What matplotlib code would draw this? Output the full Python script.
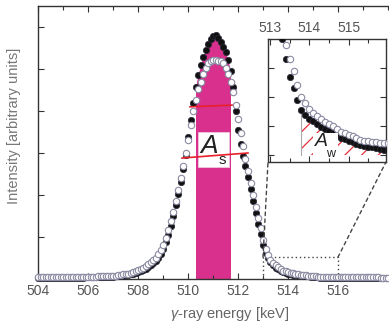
import numpy as np
from matplotlib import pyplot as plt
from matplotlib.patches import ConnectionPatch, Rectangle

plt.rcParams['font.family'] = ['Liberation Sans', 'DejaVu Sans']
plt.rcParams['mathtext.fontset'] = 'custom'
plt.rcParams['mathtext.it'] = 'Liberation Sans:italic'
plt.rcParams['mathtext.rm'] = 'Liberation Sans'
plt.rcParams['hatch.linewidth'] = 0.9

# energy channels, keV
energy = np.round(np.arange(504.0, 518.01, 0.1), 1)

# filled (black) spectrum
black = [
    0.03, 0.03, 0.03, 0.03, 0.03, 0.03, 0.03, 0.03, 0.03, 0.03,
    0.03, 0.03, 0.03, 0.03, 0.03, 0.035, 0.035, 0.035, 0.035, 0.04,
    0.04, 0.04, 0.04, 0.04, 0.045, 0.045, 0.045, 0.05, 0.05, 0.05,
    0.05, 0.06, 0.06, 0.07, 0.08, 0.09, 0.10, 0.11, 0.12, 0.14,
    0.16, 0.18, 0.21, 0.25, 0.29, 0.33, 0.38, 0.43, 0.50, 0.59,
    0.72, 0.88, 1.05, 1.27, 1.50, 1.76, 2.03, 2.30, 2.63, 2.95,
    3.38, 3.78, 4.20, 4.58, 4.85, 5.10, 5.28, 5.45, 5.60, 5.71,
    5.79, 5.81, 5.74, 5.64, 5.53, 5.40, 5.22, 4.95, 4.58, 4.00,
    3.55, 3.22, 2.92, 2.68, 2.42, 2.15, 1.85, 1.56, 1.32, 1.08,
    0.80, 0.62, 0.50, 0.40, 0.33, 0.27, 0.23, 0.19, 0.155, 0.138,
    0.125, 0.116, 0.107, 0.098, 0.091, 0.084, 0.076, 0.068, 0.060, 0.055,
    0.050, 0.045, 0.039, 0.034, 0.031, 0.028, 0.026, 0.023, 0.021, 0.019,
    0.017, 0.017, 0.016, 0.016, 0.016, 0.015, 0.015, 0.015, 0.015, 0.014,
    0.014, 0.014, 0.014, 0.014, 0.014, 0.013, 0.013, 0.013, 0.013, 0.013,
    0.013,
]

# open (white) spectrum
opened = [
    0.04, 0.04, 0.04, 0.04, 0.04, 0.04, 0.04, 0.04, 0.04, 0.04,
    0.04, 0.04, 0.04, 0.045, 0.045, 0.045, 0.045, 0.05, 0.05, 0.05,
    0.05, 0.05, 0.055, 0.055, 0.06, 0.06, 0.06, 0.065, 0.065, 0.07,
    0.07, 0.08, 0.09, 0.10, 0.11, 0.12, 0.13, 0.15, 0.17, 0.19,
    0.21, 0.24, 0.27, 0.31, 0.35, 0.40, 0.45, 0.51, 0.59, 0.69,
    0.82, 0.98, 1.16, 1.37, 1.60, 1.85, 2.12, 2.40, 2.70, 3.00,
    3.32, 3.66, 4.00, 4.26, 4.52, 4.70, 4.88, 5.03, 5.15, 5.19,
    5.21, 5.21, 5.20, 5.18, 5.14, 5.02, 4.88, 4.70, 4.45, 4.14,
    3.82, 3.48, 3.16, 2.86, 2.57, 2.28, 1.99, 1.72, 1.46, 1.22,
    0.92, 0.72, 0.56, 0.45, 0.38, 0.33, 0.29, 0.24, 0.20, 0.180,
    0.160, 0.145, 0.134, 0.125, 0.115, 0.107, 0.099, 0.090, 0.081, 0.075,
    0.069, 0.064, 0.058, 0.053, 0.050, 0.048, 0.046, 0.044, 0.043, 0.042,
    0.041, 0.041, 0.040, 0.040, 0.040, 0.039, 0.039, 0.039, 0.038, 0.038,
    0.038, 0.037, 0.037, 0.037, 0.036, 0.036, 0.036, 0.035, 0.035, 0.035,
    0.035,
]

black = np.array(black)
opened = np.array(opened)

s_window = (510.3, 511.7)     # A_s region
w_start = 513.8               # A_w region start
zoom_box = (513.0, 516.0, 0.52)
red_lines = [([510.08, 511.76], [4.10, 4.14]), ([509.76, 512.4], [2.88, 3.0])]
main_ticks = [504, 506, 508, 510, 512, 514, 516]

tick_col = '#555555'
spine_col = '#333333'

fig = plt.figure(figsize=(3.89, 3.27), dpi=100)
ax = fig.add_axes([38 / 389, 48 / 327, 384 / 389, 273 / 327])

m = (energy >= s_window[0] - 1e-6) & (energy <= s_window[1] + 1e-6)
ax.fill_between(energy, 0, black, where=m, color='#d8308c', lw=0, zorder=1)

ax.plot(energy, black, 'o', ms=4.6, mfc='#111111', mec='#2a2a3a', mew=0.5,
        clip_on=False, zorder=3)
ax.plot(energy, opened, 'o', ms=4.6, mfc='white', mec='#8a8aa2', mew=0.8,
        clip_on=False, zorder=4)

ax.add_patch(Rectangle((510.4, 2.67), 1.24, 0.83, facecolor='white',
                       edgecolor='#f0c8dc', lw=0.6, zorder=5))
ax.text(510.86, 3.17, 'A', fontsize=19, style='italic', ha='center',
        va='center', color='#222222', zorder=6)
ax.text(511.38, 2.84, 's', fontsize=11, ha='center', va='center',
        color='#222222', zorder=6)
for xs, ys in red_lines:
    ax.plot(xs, ys, color='#e8202a', lw=1.2, zorder=7)

x0, x1, yt = zoom_box
ax.plot([x0, x0, x1, x1], [0, yt, yt, 0], ls=(0, (1, 2)), color='#444444',
        lw=1.0, zorder=2)

ax.set_xlim(504, 519.36)
ax.set_ylim(0, 6.5)
ax.set_xticks(main_ticks)
ax.set_xticks(np.arange(504, 520, 1), minor=True)
ax.set_yticks(np.arange(0, 7, 1))
ax.set_yticklabels([])
ax.tick_params(which='both', direction='in', top=True, right=True,
               colors=spine_col, labelcolor=tick_col, labelsize=10)
ax.tick_params(which='major', length=4, width=0.8)
ax.tick_params(which='minor', length=3, width=0.8)
for sp in ax.spines.values():
    sp.set_color(spine_col)
    sp.set_linewidth(1.0)

ax.set_xlabel(r'$\gamma$-ray energy [keV]', fontsize=10.5, color='#666666')
ax.xaxis.set_label_coords(0.5, -0.095)
ax.xaxis.label.set_va('top')
ax.set_ylabel('Intensity [arbitrary units]', fontsize=10.5, color='#777777')
ax.yaxis.set_label_coords(-0.045, 0.56)

# inset
axin = fig.add_axes([268 / 389, (327 - 162) / 327, 118 / 389, 123 / 327])
hm = energy >= w_start - 1e-6
axin.fill_between(energy, 0, black, where=hm, facecolor='none',
                  edgecolor='#e8303c', hatch='//', lw=0, zorder=1)
axin.plot([w_start, w_start], [0, black[hm][0]], color='#aaaaaa', lw=0.8,
          zorder=1)
axin.plot(energy, black, 'o', ms=4.6, mfc='#111111', mec='#2a2a3a', mew=0.5,
          zorder=3)
axin.plot(energy, opened, 'o', ms=4.6, mfc='white', mec='#8a8aa2', mew=0.8,
          zorder=4)
axin.add_patch(Rectangle((514.1, -0.007), 0.63, 0.083, facecolor='white',
                         edgecolor='none', zorder=5))
axin.text(514.3, 0.045, 'A', fontsize=14, style='italic', ha='center',
          va='center', color='#222222', zorder=6)
axin.text(514.55, 0.004, 'w', fontsize=9, ha='center', va='center',
          color='#222222', zorder=6)

axin.set_xlim(512.95, 515.95)
axin.set_ylim(-0.024, 0.40)
axin.set_xticks([513, 514, 515])
axin.set_xticks(np.arange(513, 516, 0.5), minor=True)
axin.set_yticks([0, 0.1, 0.2, 0.3])
axin.set_yticklabels([])
axin.tick_params(which='both', direction='in', top=True, bottom=True,
                 left=True, right=True, labelbottom=False, labeltop=True,
                 colors=spine_col, labelcolor=tick_col, labelsize=10)
axin.tick_params(which='major', length=4, width=0.8, pad=3)
axin.tick_params(which='minor', length=3, width=0.8)
for sp in axin.spines.values():
    sp.set_color(spine_col)
    sp.set_linewidth(1.0)

for xa, xb in [((x0, yt), (0, 0)), ((x1, yt), (1, 0))]:
    con = ConnectionPatch(xyA=xa, coordsA=ax.transData, xyB=xb,
                          coordsB=axin.transAxes, ls=(0, (2.5, 2.5)),
                          color='#444444', lw=1.0)
    fig.add_artist(con)

fig.savefig('out.png', dpi=100)
